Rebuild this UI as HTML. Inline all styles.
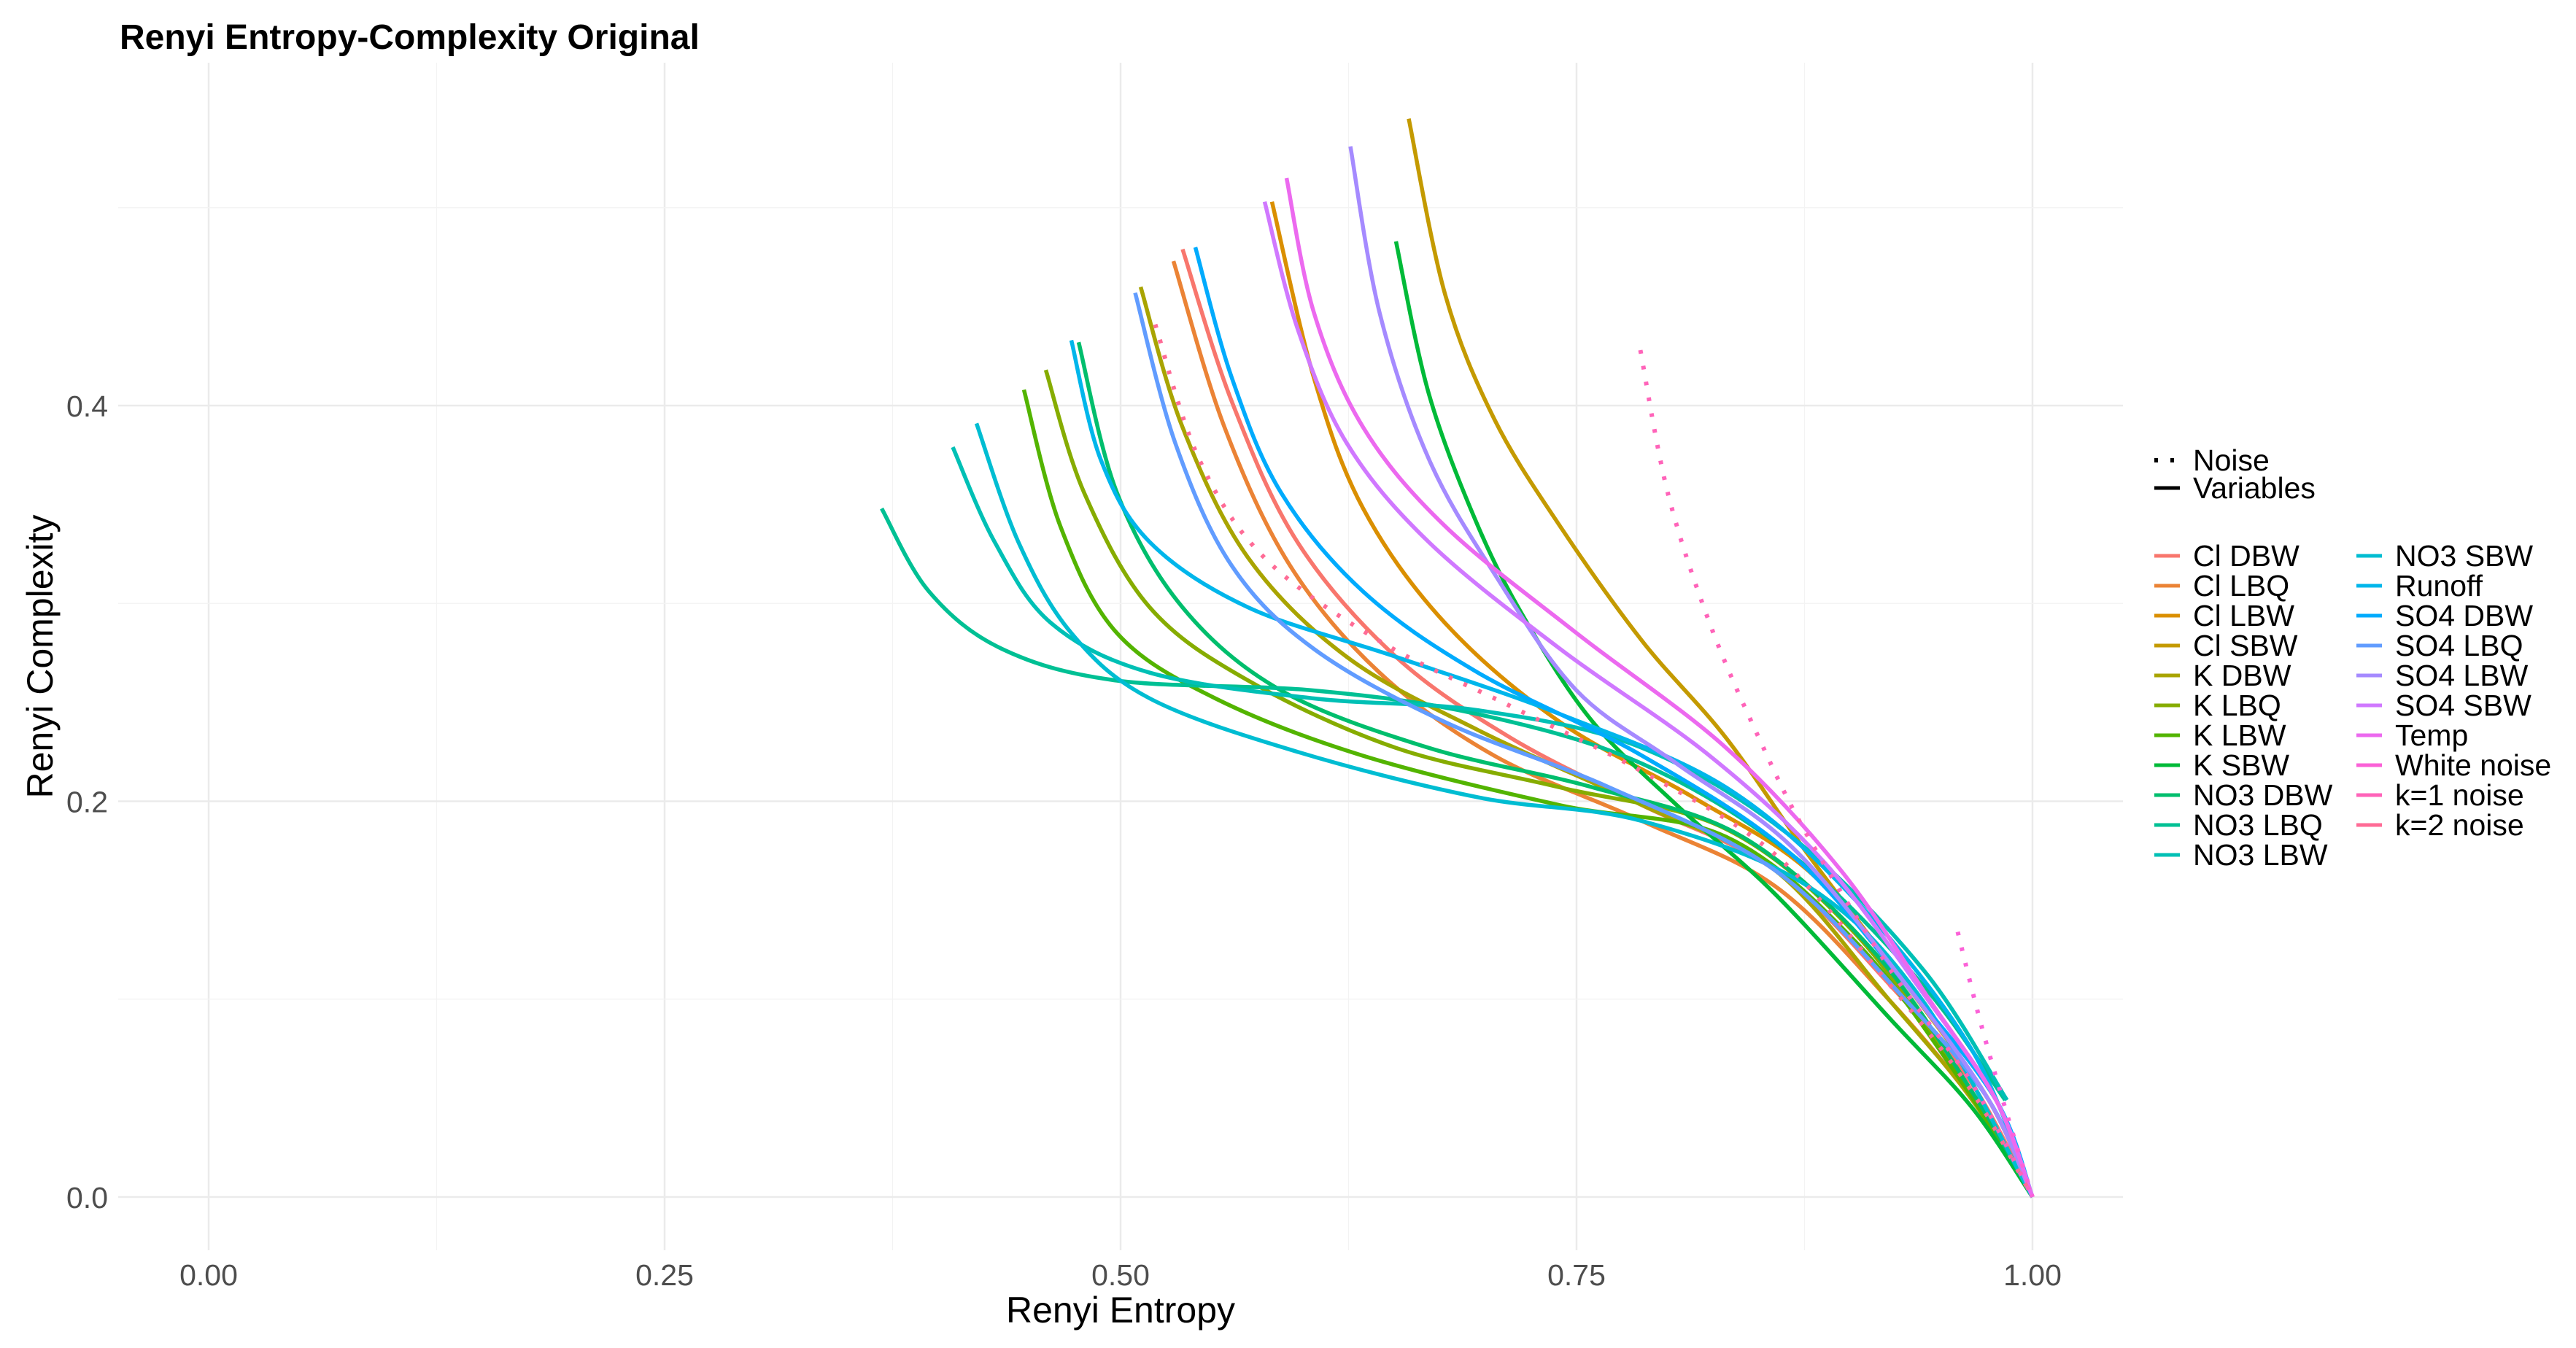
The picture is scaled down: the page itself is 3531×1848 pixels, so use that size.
<!DOCTYPE html>
<html><head><meta charset="utf-8">
<style>
html,body{margin:0;padding:0;background:#fff;}
svg{display:block;font-family:"Liberation Sans",sans-serif;}
</style></head>
<body>
<svg id="chart" width="3531" height="1848" viewBox="0 0 3531 1848" xmlns="http://www.w3.org/2000/svg">
<rect width="3531" height="1848" fill="#fff"/>
<g id="grid"></g>
<g id="lines"></g>
<g id="axes"></g>
<text x="164" y="67" font-size="48" font-weight="bold" fill="#000">Renyi Entropy-Complexity Original</text>
<text x="1536" y="1813" font-size="50" text-anchor="middle" fill="#000">Renyi Entropy</text>
<text transform="translate(72,900) rotate(-90)" font-size="50" text-anchor="middle" fill="#000">Renyi Complexity</text>
<g id="legend"></g>
</svg>
<script>
const seriesNames = ["Cl DBW","Cl LBQ","Cl LBW","Cl SBW","K DBW","K LBQ","K LBW","K SBW","NO3 DBW","NO3 LBQ","NO3 LBW","NO3 SBW","Runoff","SO4 DBW","SO4 LBQ","SO4 LBW","SO4 SBW","Temp","White noise","k=1 noise","k=2 noise"];
const seriesType = ["v","v","v","v","v","v","v","v","v","v","v","v","v","v","v","v","v","v","n","n","n"];
const xTicks = [0,0.25,0.5,0.75,1];
const xTickLabels = ["0.00","0.25","0.50","0.75","1.00"];
const yTicks = [0,0.2,0.4];
const yTickLabels = ["0.0","0.2","0.4"];
const entropyH = [
 [0.534,0.561,0.597,0.651,0.714,0.786,0.859,0.922,0.967,1],
 [0.529,0.557,0.593,0.642,0.705,0.786,0.859,0.922,0.967,1],
 [0.583,0.606,0.633,0.678,0.741,0.814,0.877,0.931,0.976,1],
 [0.658,0.678,0.705,0.741,0.786,0.832,0.877,0.931,0.976,1],
 [0.511,0.534,0.570,0.624,0.696,0.786,0.859,0.922,0.967,1],
 [0.459,0.480,0.516,0.570,0.651,0.741,0.832,0.904,0.962,1],
 [0.447,0.467,0.498,0.552,0.633,0.741,0.832,0.904,0.962,1],
 [0.651,0.669,0.696,0.723,0.759,0.805,0.859,0.922,0.967,1],
 [0.477,0.498,0.534,0.588,0.669,0.759,0.841,0.913,0.967,1],
 [0.369,0.395,0.435,0.498,0.606,0.696,0.786,0.868,0.940,0.985],
 [0.408,0.431,0.462,0.516,0.606,0.696,0.786,0.868,0.940,0.986],
 [0.421,0.444,0.473,0.516,0.597,0.696,0.786,0.877,0.940,1],
 [0.473,0.489,0.516,0.570,0.651,0.741,0.832,0.904,0.967,1],
 [0.541,0.561,0.588,0.633,0.696,0.786,0.868,0.931,0.980,1],
 [0.508,0.530,0.561,0.606,0.678,0.768,0.859,0.931,0.976,1],
 [0.626,0.642,0.669,0.705,0.750,0.805,0.868,0.931,0.976,1],
 [0.579,0.597,0.624,0.669,0.741,0.823,0.886,0.940,0.980,1],
 [0.591,0.606,0.633,0.678,0.750,0.832,0.895,0.944,0.980,1],
 [0.959,0.971,0.985,1],
 [0.785,0.800,0.823,0.850,0.877,0.922,0.967,1],
 [0.519,0.543,0.579,0.642,0.714,0.786,0.859,0.922,0.967,1]
];
const complexityC = [
 [0.479,0.402,0.331,0.273,0.232,0.198,0.165,0.107,0.057,0],
 [0.473,0.389,0.319,0.265,0.223,0.190,0.157,0.099,0.049,0],
 [0.503,0.414,0.348,0.290,0.240,0.202,0.165,0.107,0.049,0],
 [0.545,0.456,0.393,0.339,0.281,0.232,0.173,0.107,0.049,0],
 [0.460,0.389,0.323,0.273,0.236,0.198,0.165,0.099,0.049,0],
 [0.418,0.356,0.298,0.261,0.227,0.207,0.186,0.132,0.057,0],
 [0.408,0.339,0.285,0.252,0.223,0.198,0.182,0.128,0.057,0],
 [0.483,0.406,0.339,0.290,0.240,0.198,0.153,0.090,0.045,0],
 [0.432,0.356,0.298,0.256,0.227,0.207,0.182,0.124,0.053,0],
 [0.348,0.306,0.277,0.261,0.256,0.244,0.219,0.173,0.107,0.049],
 [0.379,0.331,0.290,0.265,0.252,0.246,0.227,0.182,0.115,0.049],
 [0.391,0.331,0.285,0.252,0.225,0.202,0.190,0.157,0.099,0],
 [0.433,0.373,0.331,0.298,0.273,0.244,0.207,0.149,0.074,0],
 [0.480,0.414,0.356,0.306,0.265,0.223,0.173,0.107,0.049,0],
 [0.457,0.381,0.319,0.277,0.240,0.207,0.165,0.099,0.049,0],
 [0.531,0.447,0.373,0.315,0.256,0.219,0.177,0.107,0.049,0],
 [0.503,0.439,0.381,0.331,0.277,0.223,0.169,0.103,0.049,0],
 [0.515,0.447,0.389,0.339,0.285,0.227,0.165,0.099,0.049,0],
 [0.134,0.090,0.045,0],
 [0.428,0.356,0.290,0.232,0.182,0.115,0.057,0],
 [0.441,0.373,0.323,0.281,0.248,0.215,0.173,0.107,0.053,0]
];

const NS="http://www.w3.org/2000/svg";
const PX0=162, PX1=2910, PY0=86, PY1=1714;
function xs(h){return 286 + h*2500;}
function ys(c){return 1641 - c*2712.5;}
function hcl(h,c,l){
  const hr=h*Math.PI/180;
  const L=l, U=c*Math.cos(hr), V=c*Math.sin(hr);
  const Xn=0.95047,Yn=1,Zn=1.08883;
  const un=4*Xn/(Xn+15*Yn+3*Zn), vn=9*Yn/(Xn+15*Yn+3*Zn);
  const Y = L>8 ? Yn*Math.pow((L+16)/116,3) : Yn*L/903.3;
  const u=U/(13*L)+un, v=V/(13*L)+vn;
  const X=Y*9*u/(4*v), Z=Y*(12-3*u-20*v)/(4*v);
  let r=3.2406*X-1.5372*Y-0.4986*Z, g=-0.9689*X+1.8758*Y+0.0415*Z, b=0.0557*X-0.2040*Y+1.0570*Z;
  const f=t=>{t=t<=0.0031308?12.92*t:1.055*Math.pow(t,1/2.4)-0.055;return Math.round(Math.max(0,Math.min(1,t))*255);};
  return "rgb("+f(r)+","+f(g)+","+f(b)+")";
}
const n=seriesNames.length;
const colors=seriesNames.map((s,i)=>hcl(15+360*i/n,100,65));
function mk(tag,attrs,parent){const e=document.createElementNS(NS,tag);for(const k in attrs)e.setAttribute(k,attrs[k]);parent.appendChild(e);return e;}

const grid=document.getElementById('grid');
for(let v=0; v<=1.0001; v+=0.125){
  const major = Math.abs(v*4-Math.round(v*4))<1e-6;
  const l=mk('line',{x1:xs(v),x2:xs(v),y1:PY0,y2:PY1,stroke:major?"#ebebeb":"#f3f3f3","stroke-width":major?2.5:1.3},grid);
  
  
}
for(let v=0; v<=0.5001; v+=0.1){
  const major = Math.abs(v*5-Math.round(v*5))<1e-6;
  const l=mk('line',{x1:PX0,x2:PX1,y1:ys(v),y2:ys(v),stroke:major?"#ebebeb":"#f3f3f3","stroke-width":major?2.5:1.3},grid);
  
  
}
const axes=document.getElementById('axes');
xTicks.forEach((v,i)=>{
  const t=mk('text',{x:xs(v),y:1762,"font-size":41,"text-anchor":"middle",fill:"#4d4d4d"},axes);
  t.textContent=xTickLabels[i];
  
  
});
yTicks.forEach((v,i)=>{
  const t=mk('text',{x:148,y:ys(v)+15,"font-size":41,"text-anchor":"end",fill:"#4d4d4d"},axes);
  t.textContent=yTickLabels[i];
  
  
});
function smoothPath(pts){
  let d="M"+pts[0][0].toFixed(1)+","+pts[0][1].toFixed(1);
  for(let i=0;i<pts.length-1;i++){
    const p0=pts[Math.max(0,i-1)],p1=pts[i],p2=pts[i+1],p3=pts[Math.min(pts.length-1,i+2)];
    const c1=[p1[0]+(p2[0]-p0[0])/6,p1[1]+(p2[1]-p0[1])/6];
    const c2=[p2[0]-(p3[0]-p1[0])/6,p2[1]-(p3[1]-p1[1])/6];
    d+=" C"+c1[0].toFixed(1)+","+c1[1].toFixed(1)+" "+c2[0].toFixed(1)+","+c2[1].toFixed(1)+" "+p2[0].toFixed(1)+","+p2[1].toFixed(1);
  }
  return d;
}
const lines=document.getElementById('lines');
const order=[...Array(n).keys()];
order.forEach(i=>{
  const pts=entropyH[i].map((h,k)=>[xs(h),ys(complexityC[i][k])]);
  const attrs={d:smoothPath(pts),fill:"none",stroke:colors[i],"stroke-width":5.5,"stroke-linejoin":"round"};
  if(seriesType[i]==="n"){attrs["stroke-dasharray"]="5 17";attrs["stroke-width"]=6;}
  const p=mk('path',attrs,lines);
  
  
});
const leg=document.getElementById('legend');
const ln1=mk('line',{x1:2953,x2:2988,y1:631,y2:631,stroke:"#000","stroke-width":6,"stroke-dasharray":"5 17"},leg);


const t1=mk('text',{x:3006,y:645,"font-size":41,fill:"#000"},leg);t1.textContent="Noise";


const ln2=mk('line',{x1:2953,x2:2988,y1:669,y2:669,stroke:"#000","stroke-width":5},leg);


const t2=mk('text',{x:3006,y:683,"font-size":41,fill:"#000"},leg);t2.textContent="Variables";


seriesNames.forEach((s,i)=>{
  const col=i<11?0:1, row=i<11?i:i-11;
  const kx=col?3230:2953, tx=col?3283:3006, y=762+row*41;
  const g=mk('g',{},leg);
  
  
  mk('line',{x1:kx,x2:kx+35,y1:y,y2:y,stroke:colors[i],"stroke-width":5},g);
  const t=mk('text',{x:tx,y:y+14,"font-size":41,fill:"#000"},g);
  t.textContent=s;
});
</script>
</body></html>
